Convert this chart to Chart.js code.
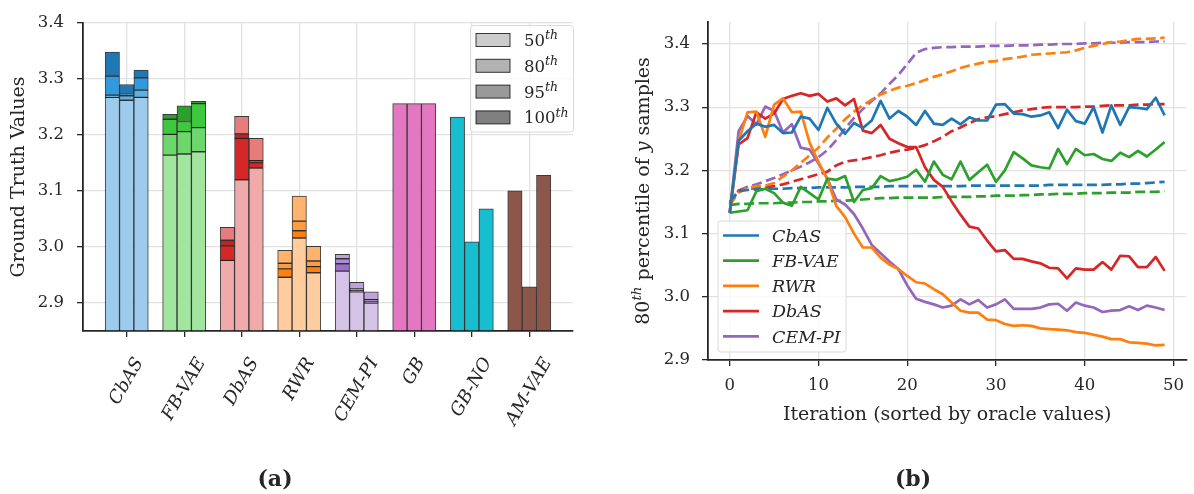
<!DOCTYPE html>
<html>
<head>
<meta charset="utf-8">
<script src="https://cdn.jsdelivr.net/npm/chart.js@4.4.0/dist/chart.umd.min.js"></script>
<style>
  html, body { margin: 0; padding: 0; background: #fff; }
  #wrap { position: relative; width: 1194px; height: 494px; overflow: hidden; }
  canvas { position: absolute; top: 0; }
  #barCanvas { left: 0; }
  #lineCanvas { left: 597px; }
</style>
</head>
<body>
<div id="wrap">
  <canvas id="barCanvas" width="597" height="494"></canvas>
  <canvas id="lineCanvas" width="597" height="494"></canvas>
</div>
<script>
// ---------- panel (a): ground truth of the final samples ----------
const methods = ['CbAS', 'FB-VAE', 'DbAS', 'RWR', 'CEM-PI', 'GB', 'GB-NO', 'AM-VAE'];
const pctNames = ['50', '80', '95', '100'];

// percentiles per method (rows: CbAS, FB-VAE, DbAS, RWR, CEM-PI), three runs each
const p50 = [
  [3.267, 3.262, 3.267],
  [3.164, 3.166, 3.170],
  [2.976, 3.120, 3.141],
  [2.946, 3.016, 2.954],
  [2.957, 2.920, 2.900]
];
const p80 = [
  [3.271, 3.270, 3.280],
  [3.201, 3.206, 3.213],
  [3.002, 3.194, 3.150],
  [2.961, 3.029, 2.965],
  [2.970, 2.922, 2.903]
];
const p95 = [
  [3.305, 3.274, 3.302],
  [3.228, 3.224, 3.256],
  [3.012, 3.202, 3.154],
  [2.971, 3.046, 2.975],
  [2.979, 2.925, 2.906]
];
const p100 = [
  [3.348, 3.290, 3.316],
  [3.237, 3.252, 3.260],
  [3.035, 3.233, 3.194],
  [2.994, 3.091, 3.001],
  [2.987, 2.937, 2.920]
];
// methods that return a single design per run: GB, GB-NO, AM-VAE
const singleRuns = [
  [3.256, 3.256, 3.256],
  [3.232, 3.009, 3.068],
  [3.100, 2.929, 3.128]
];
const barTicksY = [2.9, 3.0, 3.1, 3.2, 3.3, 3.4];

// ---------- panel (b): 80th percentile per iteration ----------
const iterations = Array.from({ length: 50 }, (_, i) => i);
const lineTicksX = [0, 10, 20, 30, 40, 50];
const lineTicksY = [2.9, 3.0, 3.1, 3.2, 3.3, 3.4];
const lineNames = ['CbAS', 'FB-VAE', 'RWR', 'DbAS', 'CEM-PI'];

// ground truth (solid)
const cbasTruth = [3.133,3.247,3.262,3.274,3.269,3.272,3.259,3.260,3.285,3.282,
  3.264,3.299,3.274,3.258,3.275,3.267,3.279,3.310,3.282,3.294,
  3.285,3.272,3.294,3.274,3.272,3.282,3.273,3.284,3.279,3.279,
  3.304,3.305,3.290,3.289,3.285,3.287,3.292,3.267,3.296,3.278,
  3.274,3.300,3.260,3.303,3.272,3.300,3.299,3.297,3.315,3.287];
const fbvaeTruth = [3.133,3.135,3.137,3.167,3.171,3.164,3.149,3.144,3.174,3.164,
  3.154,3.187,3.185,3.191,3.150,3.169,3.172,3.191,3.183,3.186,
  3.190,3.201,3.182,3.214,3.193,3.186,3.214,3.185,3.197,3.209,
  3.182,3.200,3.229,3.219,3.208,3.205,3.203,3.234,3.210,3.234,
  3.224,3.226,3.218,3.215,3.228,3.221,3.231,3.222,3.233,3.245];
const rwrTruth = [3.133,3.246,3.292,3.293,3.253,3.304,3.314,3.292,3.293,3.244,
  3.213,3.186,3.144,3.126,3.100,3.078,3.078,3.062,3.051,3.044,
  3.033,3.023,3.021,3.012,3.004,2.991,2.978,2.975,2.975,2.964,
  2.963,2.957,2.954,2.955,2.954,2.950,2.949,2.948,2.947,2.944,
  2.943,2.940,2.937,2.933,2.933,2.928,2.927,2.926,2.923,2.924];
const dbasTruth = [3.133,3.241,3.251,3.292,3.282,3.290,3.313,3.318,3.322,3.318,
  3.321,3.309,3.314,3.303,3.313,3.263,3.259,3.272,3.250,3.243,
  3.237,3.237,3.205,3.185,3.174,3.151,3.130,3.111,3.108,3.089,
  3.072,3.074,3.060,3.060,3.056,3.053,3.046,3.045,3.029,3.045,
  3.043,3.043,3.055,3.043,3.065,3.064,3.047,3.047,3.063,3.041];
const cemTruth = [3.133,3.262,3.286,3.273,3.301,3.294,3.260,3.273,3.236,3.233,
  3.211,3.187,3.154,3.146,3.131,3.108,3.082,3.069,3.056,3.044,
  3.018,2.997,2.992,2.988,2.983,2.986,2.996,2.988,2.995,2.983,
  2.988,2.996,2.981,2.981,2.981,2.983,2.988,2.989,2.978,2.991,
  2.986,2.983,2.976,2.978,2.979,2.985,2.979,2.986,2.983,2.979];

// oracle (dashed)
const cbasOracle = [3.150,3.167,3.169,3.170,3.170,3.171,3.171,3.172,3.172,3.172,
  3.173,3.173,3.173,3.173,3.174,3.174,3.174,3.174,3.175,3.175,
  3.175,3.175,3.175,3.175,3.175,3.175,3.175,3.176,3.176,3.176,
  3.176,3.176,3.176,3.176,3.176,3.176,3.177,3.177,3.177,3.177,
  3.177,3.177,3.177,3.178,3.178,3.179,3.179,3.180,3.181,3.182];
const fbvaeOracle = [3.145,3.147,3.147,3.148,3.148,3.148,3.149,3.149,3.150,3.150,
  3.151,3.151,3.152,3.152,3.153,3.154,3.155,3.156,3.156,3.157,
  3.157,3.157,3.157,3.157,3.158,3.158,3.158,3.158,3.159,3.159,
  3.160,3.160,3.160,3.161,3.161,3.162,3.162,3.163,3.163,3.163,
  3.164,3.164,3.164,3.165,3.165,3.165,3.166,3.166,3.166,3.167];
const rwrOracle = [3.145,3.165,3.172,3.175,3.176,3.180,3.190,3.200,3.212,3.224,
  3.236,3.252,3.266,3.281,3.293,3.303,3.312,3.320,3.326,3.331,
  3.334,3.338,3.343,3.348,3.352,3.357,3.362,3.366,3.369,3.372,
  3.373,3.376,3.378,3.380,3.383,3.384,3.385,3.386,3.387,3.390,
  3.394,3.397,3.400,3.403,3.404,3.406,3.408,3.408,3.409,3.410];
const dbasOracle = [3.146,3.168,3.171,3.172,3.173,3.175,3.178,3.182,3.186,3.190,
  3.194,3.198,3.208,3.214,3.216,3.218,3.221,3.224,3.228,3.231,
  3.233,3.236,3.240,3.246,3.253,3.262,3.268,3.275,3.281,3.284,
  3.286,3.289,3.292,3.295,3.297,3.299,3.300,3.300,3.300,3.300,
  3.301,3.301,3.302,3.303,3.303,3.303,3.304,3.304,3.305,3.305];
const cemOracle = [3.150,3.168,3.174,3.178,3.183,3.188,3.194,3.200,3.206,3.213,
  3.221,3.232,3.248,3.266,3.283,3.297,3.310,3.322,3.337,3.351,
  3.368,3.386,3.392,3.394,3.395,3.395,3.396,3.396,3.396,3.397,
  3.397,3.397,3.398,3.398,3.398,3.399,3.399,3.400,3.400,3.400,
  3.401,3.401,3.402,3.402,3.402,3.403,3.403,3.403,3.404,3.404];

// ---------- styling ----------
const SERIF = '"DejaVu Serif", "Liberation Serif", serif';
const INK = '#262626';
const GRID = '#e2e2e2';
const EDGE = 'rgba(10,10,10,0.8)';
const TICK_SIZE = 16.5;
const LABEL_SIZE = 19;

// segment colours per method, bottom (50th) to top (100th)
const segPalette = {
  'CbAS':   ['#9dcbec', '#5eafe4', '#3399dd', '#1f77b4'],
  'FB-VAE': ['#a2e59f', '#6cd86c', '#3ec83e', '#2ca02c'],
  'DbAS':   ['#f0aaaa', '#d62728', '#c42222', '#e77c7c'],
  'RWR':    ['#ffcc9e', '#ff800e', '#ff9c40', '#ffb36d'],
  'CEM-PI': ['#d4c3e6', '#9b6fc8', '#ad8dd3', '#bda3dc']
};
const singleColors = ['#e377c2', '#17becf', '#8c564b'];
const legendGrays = ['#cccccc', '#b3b3b3', '#999999', '#808080'];
const lineColors = { 'CbAS': '#1f77b4', 'FB-VAE': '#2ca02c', 'RWR': '#ff7f0e', 'DbAS': '#d62728', 'CEM-PI': '#9467bd' };

const yMinA = 2.85, yMaxA = 3.4;
const runOffset = 0.25;
const runX = (m, r) => m + (r - 1) * runOffset;

function fontOf(r) {
  return `${r.style || 'normal'} ${r.weight || 'normal'} ${r.size}px ${SERIF}`;
}
// draws a row of text runs (for superscripts / italics) around (x, y)
function drawRuns(ctx, runs, x, y, opts = {}) {
  ctx.save();
  ctx.translate(x, y);
  ctx.rotate(opts.angle || 0);
  ctx.fillStyle = opts.color || INK;
  ctx.textBaseline = 'alphabetic';
  ctx.textAlign = 'left';
  let total = 0;
  runs.forEach(r => { ctx.font = fontOf(r); r.w = ctx.measureText(r.text).width; total += r.w; });
  let cx = opts.align === 'left' ? 0 : -total / 2;
  const base = runs[0].size * 0.36;
  runs.forEach(r => {
    ctx.font = fontOf(r);
    ctx.fillText(r.text, cx, base + (r.dy || 0));
    cx += r.w;
  });
  ctx.restore();
}
function roundBox(ctx, x, y, w, h, rad) {
  ctx.beginPath();
  ctx.moveTo(x + rad, y);
  ctx.arcTo(x + w, y, x + w, y + h, rad);
  ctx.arcTo(x + w, y + h, x, y + h, rad);
  ctx.arcTo(x, y + h, x, y, rad);
  ctx.arcTo(x, y, x + w, y, rad);
  ctx.closePath();
  ctx.fillStyle = 'rgba(255,255,255,0.8)';
  ctx.fill();
  ctx.strokeStyle = '#dadada';
  ctx.lineWidth = 1;
  ctx.stroke();
}

// ---------- bar chart ----------
const barCommon = {
  grouped: false,
  barPercentage: 1,
  categoryPercentage: 1,
  borderColor: EDGE,
  borderWidth: 1,
  borderSkipped: false,
  base: yMinA
};
const segBounds = [[null, p50], [p50, p80], [p80, p95], [p95, p100]];
const barDatasets = segBounds.map(([lo, hi], s) => Object.assign({
  label: pctNames[s],
  data: hi.flatMap((row, m) => row.map((v, r) => ({ x: runX(m, r), y: lo ? [lo[m][r], v] : v }))),
  backgroundColor: hi.flatMap((row, m) => row.map(() => segPalette[methods[m]][s]))
}, barCommon));
barDatasets.push(Object.assign({
  label: 'single',
  data: singleRuns.flatMap((row, k) => row.map((v, r) => ({ x: runX(k + 5, r), y: v }))),
  backgroundColor: singleRuns.flatMap((row, k) => row.map(() => singleColors[k]))
}, barCommon));

const barDecor = {
  id: 'barDecor',
  afterDraw(chart) {
    const ctx = chart.ctx;
    const xs = chart.scales.x;
    // rotated method names, centred under each group
    ctx.save();
    ctx.fillStyle = INK;
    const nameSize = 18;
    ctx.font = `italic ${nameSize}px ${SERIF}`;
    const ang = Math.PI / 3;
    methods.forEach((name, i) => {
      const px = xs.getPixelForValue(i);
      const w = ctx.measureText(name).width;
      const bh = w * Math.sin(ang) + nameSize * Math.cos(ang);
      ctx.save();
      ctx.translate(px, xs.top + 24 + bh / 2);
      ctx.rotate(-ang);
      ctx.textAlign = 'center';
      ctx.textBaseline = 'middle';
      ctx.fillText(name, 0, 0);
      ctx.restore();
    });
    ctx.restore();

    drawRuns(ctx, [{ text: 'Ground Truth Values', size: LABEL_SIZE }], 17, (chart.chartArea.top + chart.chartArea.bottom) / 2, { angle: -Math.PI / 2 });

    // percentile legend
    roundBox(ctx, 470.5, 25.5, 103, 106.5, 3);
    pctNames.forEach((p, k) => {
      const cy = 40 + k * 25.8;
      ctx.fillStyle = legendGrays[k];
      ctx.fillRect(476, cy - 6.5, 34, 13);
      ctx.strokeStyle = EDGE;
      ctx.lineWidth = 1;
      ctx.strokeRect(476, cy - 6.5, 34, 13);
      drawRuns(ctx, [{ text: p, size: 16.5 }, { text: 'th', size: 12.5, style: 'italic', dy: -6.5 }], 524, cy, { align: 'left' });
    });

    drawRuns(ctx, [{ text: '(a)', size: 22, weight: 'bold' }], 275, 478);
  }
};

new Chart(document.getElementById('barCanvas'), {
  type: 'bar',
  data: { datasets: barDatasets },
  options: {
    responsive: false,
    animation: false,
    devicePixelRatio: 1,
    layout: { padding: { top: 17, right: 24, left: 0, bottom: 0 } },
    plugins: { legend: { display: false }, tooltip: { enabled: false } },
    scales: {
      x: {
        type: 'linear',
        min: -0.76,
        max: 7.76,
        offset: false,
        afterBuildTicks: s => { s.ticks = methods.map((_, i) => ({ value: i })); },
        afterFit: s => { s.height = 163; },
        ticks: { display: false },
        grid: { color: GRID, lineWidth: 1.3, offset: false, tickColor: INK, tickLength: 6, tickWidth: 1.3 },
        border: { color: INK, width: 1.8 }
      },
      y: {
        min: yMinA,
        max: yMaxA,
        beginAtZero: false,
        afterBuildTicks: s => { s.ticks = barTicksY.map(v => ({ value: v })); },
        afterFit: s => { s.width = 83; },
        ticks: { color: INK, padding: 13, font: { family: SERIF, size: TICK_SIZE }, callback: v => v.toFixed(1) },
        grid: { color: GRID, lineWidth: 1.3, tickColor: INK, tickLength: 6, tickWidth: 1.3 },
        border: { color: INK, width: 1.8 }
      }
    }
  },
  plugins: [barDecor]
});

// ---------- line chart ----------
const truthSeries = { 'CbAS': cbasTruth, 'FB-VAE': fbvaeTruth, 'RWR': rwrTruth, 'DbAS': dbasTruth, 'CEM-PI': cemTruth };
const oracleSeries = { 'CbAS': cbasOracle, 'FB-VAE': fbvaeOracle, 'RWR': rwrOracle, 'DbAS': dbasOracle, 'CEM-PI': cemOracle };

const lineDatasets = [];
lineNames.forEach(name => {
  lineDatasets.push({
    label: name + ' oracle',
    data: oracleSeries[name].map((v, i) => ({ x: iterations[i], y: v })),
    borderColor: lineColors[name],
    borderWidth: 2.7,
    borderDash: [10, 4.5],
    pointRadius: 0,
    tension: 0,
    order: 2
  });
});
lineNames.forEach(name => {
  lineDatasets.push({
    label: name,
    data: truthSeries[name].map((v, i) => ({ x: iterations[i], y: v })),
    borderColor: lineColors[name],
    borderWidth: 2.7,
    borderJoinStyle: 'round',
    pointRadius: 0,
    tension: 0,
    order: 1
  });
});

const lineDecor = {
  id: 'lineDecor',
  afterDraw(chart) {
    const ctx = chart.ctx;
    const area = chart.chartArea;
    drawRuns(ctx, [
      { text: '80', size: LABEL_SIZE },
      { text: 'th', size: 13.5, style: 'italic', dy: -7.5 },
      { text: ' percentile of ', size: LABEL_SIZE },
      { text: 'y', size: LABEL_SIZE, style: 'italic' },
      { text: ' samples', size: LABEL_SIZE }
    ], 45, (area.top + area.bottom) / 2, { angle: -Math.PI / 2 });
    drawRuns(ctx, [{ text: 'Iteration (sorted by oracle values)', size: LABEL_SIZE }], (area.left + area.right) / 2, 413);

    // method legend
    roundBox(ctx, 121, 221, 128, 131, 3);
    lineNames.forEach((name, k) => {
      const cy = 235.5 + k * 25.2;
      ctx.strokeStyle = lineColors[name];
      ctx.lineWidth = 2.7;
      ctx.beginPath();
      ctx.moveTo(126, cy);
      ctx.lineTo(162, cy);
      ctx.stroke();
      drawRuns(ctx, [{ text: name, size: 17.5, style: 'italic' }], 175, cy, { align: 'left' });
    });

    drawRuns(ctx, [{ text: '(b)', size: 22, weight: 'bold' }], 316, 478);
  }
};

new Chart(document.getElementById('lineCanvas'), {
  type: 'line',
  data: { datasets: lineDatasets },
  options: {
    responsive: false,
    animation: false,
    devicePixelRatio: 1,
    layout: { padding: { top: 12, right: 0, left: 0, bottom: 0 } },
    plugins: { legend: { display: false }, tooltip: { enabled: false } },
    scales: {
      x: {
        type: 'linear',
        min: -2.45,
        max: 51.45,
        afterBuildTicks: s => { s.ticks = lineTicksX.map(v => ({ value: v })); },
        afterFit: s => { s.height = 134; },
        ticks: { color: INK, padding: 10, maxRotation: 0, font: { family: SERIF, size: TICK_SIZE } },
        grid: { color: GRID, lineWidth: 1.3, tickColor: INK, tickLength: 6, tickWidth: 1.3 },
        border: { color: INK, width: 1.8 }
      },
      y: {
        min: 2.9,
        max: 3.435,
        afterBuildTicks: s => { s.ticks = lineTicksY.map(v => ({ value: v })); },
        afterFit: s => { s.width = 111; },
        ticks: { color: INK, padding: 12, font: { family: SERIF, size: TICK_SIZE }, callback: v => v.toFixed(1) },
        grid: { color: GRID, lineWidth: 1.3, tickColor: INK, tickLength: 6, tickWidth: 1.3 },
        border: { color: INK, width: 1.8 }
      }
    }
  },
  plugins: [lineDecor]
});
</script>
</body>
</html>
